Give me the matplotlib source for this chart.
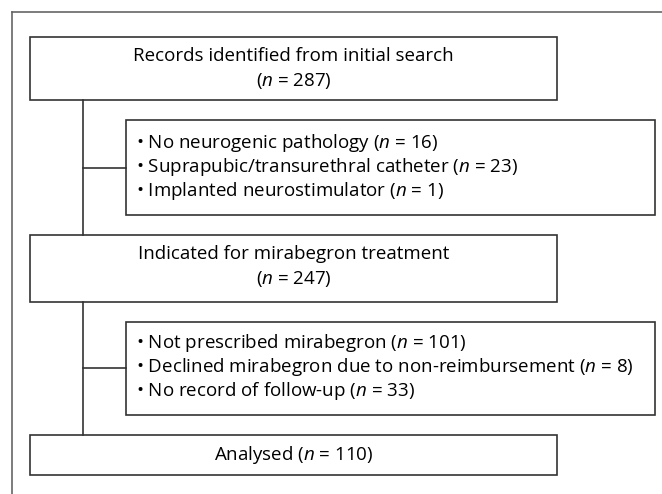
import matplotlib.pyplot as plt
from matplotlib.patches import Rectangle

plt.rcParams['font.family'] = ['Open Sans', 'DejaVu Sans']
plt.rcParams['mathtext.fontset'] = 'custom'
plt.rcParams['mathtext.rm'] = 'Open Sans'
plt.rcParams['mathtext.it'] = 'Open Sans:italic'

# flow data
stage_labels = ["Records identified from initial search",
                "Indicated for mirabegron treatment",
                "Analysed"]
stage_counts = [287, 247, 110]

excl1_reasons = ["No neurogenic pathology",
                 "Suprapubic/transurethral catheter",
                 "Implanted neurostimulator"]
excl1_counts = [16, 23, 1]

excl2_reasons = ["Not prescribed mirabegron",
                 "Declined mirabegron due to non-reimbursement",
                 "No record of follow-up"]
excl2_counts = [101, 8, 33]

W, H = 662, 494
fig = plt.figure(figsize=(W / 100, H / 100), dpi=100)
ax = fig.add_axes([0, 0, 1, 1])
ax.set_xlim(0, W)
ax.set_ylim(H, 0)
ax.axis('off')

lc = '#333333'
lw = 1.2
fs = 13.5

# outer frame (cut off at right/bottom)
ax.plot([12, 12], [H + 5, 12], color='#666666', lw=1.2)
ax.plot([12, W + 5], [12, 12], color='#666666', lw=1.2)

def nstr(n):
    return "($n$ = %d)" % n

def box(x0, y0, x1, y1):
    ax.add_patch(Rectangle((x0, y0), x1 - x0, y1 - y0, fill=False,
                           edgecolor=lc, lw=lw))

main_x0, main_x1 = 30, 557
side_x0, side_x1 = 126, 655
vx = 83
cx = (main_x0 + main_x1) / 2

# main boxes
main_boxes = [(37, 100), (235, 302), (435, 475)]
for i, (y0, y1) in enumerate(main_boxes):
    box(main_x0, y0, main_x1, y1)
    if i < 2:
        ax.text(cx, y0 + 19, stage_labels[i], ha='center', va='center', fontsize=fs)
        ax.text(cx, y0 + 44, nstr(stage_counts[i]), ha='center', va='center', fontsize=fs)
    else:
        ax.text(cx, (y0 + y1) / 2, stage_labels[i] + " " + nstr(stage_counts[i]),
                ha='center', va='center', fontsize=fs)

# side (exclusion) boxes
side_boxes = [(120, 215, excl1_reasons, excl1_counts, 168),
              (322, 415, excl2_reasons, excl2_counts, 368)]
for y0, y1, reasons, counts, cy in side_boxes:
    box(side_x0, y0, side_x1, y1)
    for j, (r, c) in enumerate(zip(reasons, counts)):
        ax.text(side_x0 + 10, cy - 1 + (j - 1) * 24, "\u2022 " + r + " " + nstr(c),
                ha='left', va='center', fontsize=fs)
    ax.plot([vx, side_x0], [cy, cy], color=lc, lw=lw)

# vertical connectors
ax.plot([vx, vx], [100, 235], color=lc, lw=lw)
ax.plot([vx, vx], [302, 435], color=lc, lw=lw)

fig.savefig('out.png', dpi=100)
